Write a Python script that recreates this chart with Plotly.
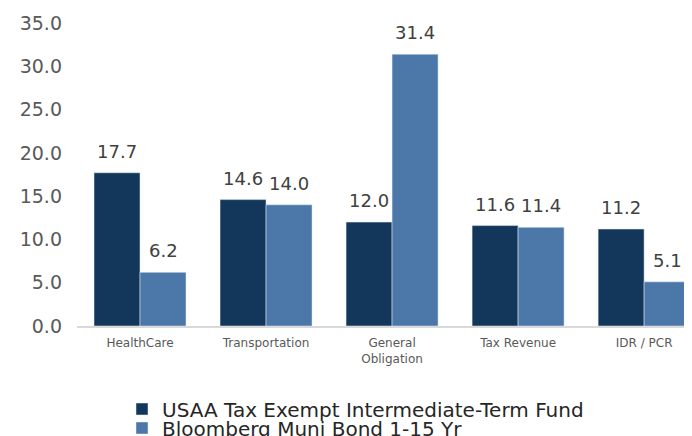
import plotly.graph_objects as go

categories = ["HealthCare", "Transportation", "General<br>Obligation", "Tax Revenue", "IDR / PCR"]
fund_name = "USAA Tax Exempt Intermediate-Term Fund"
bench_name = "Bloomberg Muni Bond 1-15 Yr"
fund_values = [17.7, 14.6, 12.0, 11.6, 11.2]
bench_values = [6.2, 14.0, 31.4, 11.4, 5.1]
y_ticks = [0, 5, 10, 15, 20, 25, 30, 35]

DARK = "#13375B"
LIGHT = "#4B77A9"
FONT = "DejaVu Sans"

# page body has an 8px default margin; size the figure to the visible area
W, H = 684, 428

fig = go.Figure()
fig.add_trace(go.Bar(x=categories, y=fund_values, name=fund_name, legend="legend",
                     marker=dict(color=DARK, line=dict(color="#e8eef5", width=0.5))))
fig.add_trace(go.Bar(x=categories, y=bench_values, name=bench_name, legend="legend2",
                     marker=dict(color=LIGHT, line=dict(color="#e8eef5", width=0.5))))

for vals, shift in ((fund_values, -23), (bench_values, 23)):
    for c, v in zip(categories, vals):
        fig.add_annotation(x=c, y=v, text=f"{v:.1f}", showarrow=False,
                           xshift=shift, yshift=9, yanchor="bottom",
                           font=dict(family=FONT, size=18, color="#404040"))

legend_common = dict(orientation="v", xref="container", yref="container",
                     xanchor="left", yanchor="middle", itemwidth=30,
                     bgcolor="rgba(0,0,0,0)",
                     font=dict(family=FONT, size=20, color="#262626"))

fig.update_layout(
    width=W, height=H,
    margin=dict(l=69, r=0, t=15, b=110, autoexpand=False),
    paper_bgcolor="white", plot_bgcolor="white",
    barmode="group", bargap=0.27, bargroupgap=0,
    font=dict(family=FONT, color="#595959"),
    showlegend=True,
    legend=dict(x=114 / W, y=1 - 401 / H, **legend_common),
    legend2=dict(x=114 / W, y=1 - 420 / H, **legend_common),
    xaxis=dict(showgrid=False, showline=True, linecolor="#d9d9d9", linewidth=1.5,
               ticks="", tickfont=dict(family=FONT, size=12, color="#595959"),
               range=[-0.5, 4.38], automargin=False, ticklabelstandoff=5, tickangle=0),
    yaxis=dict(range=[0, 35], tickvals=y_ticks, tickformat=".1f", showgrid=False,
               zeroline=False, showline=False, ticks="", automargin=False,
               tickfont=dict(family=FONT, size=19, color="#595959"), ticklabelstandoff=14),
)

fig.write_html("out.html")
